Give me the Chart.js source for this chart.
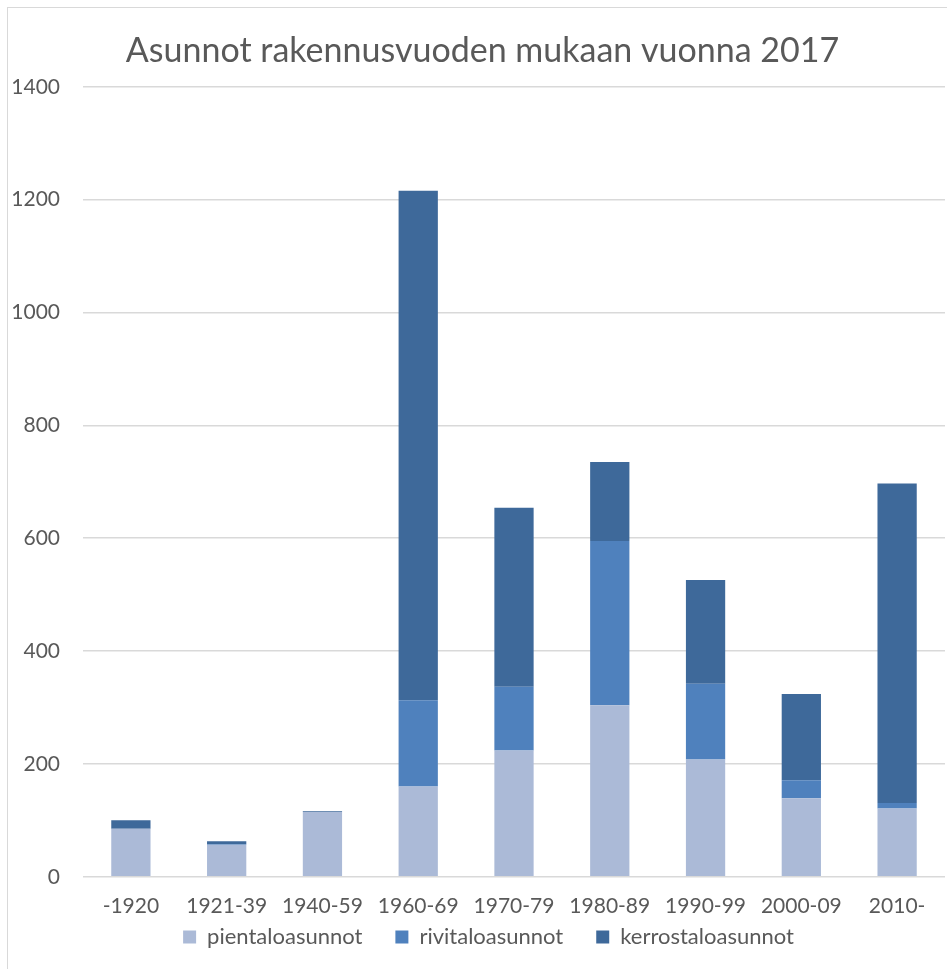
<!DOCTYPE html>
<html>
<head>
<meta charset="utf-8">
<script src="https://cdn.jsdelivr.net/npm/chart.js@4"></script>
<style>
  html, body { margin: 0; padding: 0; background: #ffffff; overflow: hidden; }
  #wrap { position: relative; width: 947px; height: 969px; overflow: hidden; }
  #frame { position: absolute; left: 7px; top: 7px; width: 960px; height: 1000px;
           border-left: 1px solid #d9d9d9; border-top: 1px solid #d9d9d9; box-sizing: border-box; }
  canvas { position: absolute; left: 0; top: 0; }
</style>
</head>
<body>
<div id="wrap">
  <div id="frame"></div>
  <canvas id="c" width="947" height="1001"></canvas>
</div>
<script>
const chartTitle = "Asunnot rakennusvuoden mukaan vuonna 2017";
const categories = ["-1920", "1921-39", "1940-59", "1960-69", "1970-79", "1980-89", "1990-99", "2000-09", "2010-"];
const seriesNames = ["pientaloasunnot", "rivitaloasunnot", "kerrostaloasunnot"];
const pientaloasunnot = [85, 57, 115, 160, 224, 304, 208, 139, 121];
const rivitaloasunnot = [0, 1, 0, 153, 113, 291, 134, 32, 10];
const kerrostaloasunnot = [15, 5, 1, 903, 317, 140, 184, 153, 566];
const yTicks = [0, 200, 400, 600, 800, 1000, 1200, 1400];

const colors = ["#abbad7", "#4f81bd", "#3e699a"];
const textColor = "#595959";
const fontFamily = "Lato, 'Open Sans', sans-serif";

const seriesValues = [pientaloasunnot, rivitaloasunnot, kerrostaloasunnot];

const boxShift = {
  id: "boxShift",
  afterLayout(chart) {
    const l = chart.legend;
    if (l) { l.top -= 43; l.bottom -= 43; l.left += 16; l.right += 16; }
    const t = chart.titleBlock;
    if (t) { t.left += 10; t.right += 10; }
  }
};

new Chart(document.getElementById("c"), {
  type: "bar",
  data: {
    labels: categories,
    datasets: seriesNames.map((name, i) => ({
      label: name,
      data: seriesValues[i],
      backgroundColor: colors[i],
      borderWidth: 0,
      categoryPercentage: 1.0,
      barPercentage: 0.41
    }))
  },
  plugins: [boxShift],
  options: {
    responsive: false,
    animation: false,
    devicePixelRatio: 1,
    layout: { padding: { left: 0, right: 2, top: 0, bottom: 0 } },
    plugins: {
      title: {
        display: true,
        text: chartTitle,
        color: textColor,
        font: { family: fontFamily, size: 34, weight: "normal" },
        padding: { top: 31, bottom: 15 }
      },
      legend: {
        display: true,
        position: "bottom",
        labels: {
          color: textColor,
          font: { family: fontFamily, size: 22 },
          boxWidth: 13,
          boxHeight: 13,
          padding: 33
        }
      },
      tooltip: { enabled: false }
    },
    scales: {
      x: {
        stacked: true,
        grid: { display: false, drawTicks: false },
        border: { display: false },
        ticks: {
          color: textColor,
          font: { family: fontFamily, size: 21 },
          padding: 17,
          maxRotation: 0,
          autoSkip: false
        }
      },
      y: {
        stacked: true,
        min: 0,
        max: 1400,
        grid: { color: "#d9d9d9", lineWidth: 1.5, drawTicks: false },
        border: { display: false },
        afterBuildTicks: (scale) => { scale.ticks = yTicks.map(v => ({ value: v })); },
        ticks: {
          color: textColor,
          font: { family: fontFamily, size: 21 },
          padding: 23,
          callback: (v) => String(v)
        },
        afterFit: (scale) => { scale.width = 83; }
      }
    }
  }
});
</script>
</body>
</html>
